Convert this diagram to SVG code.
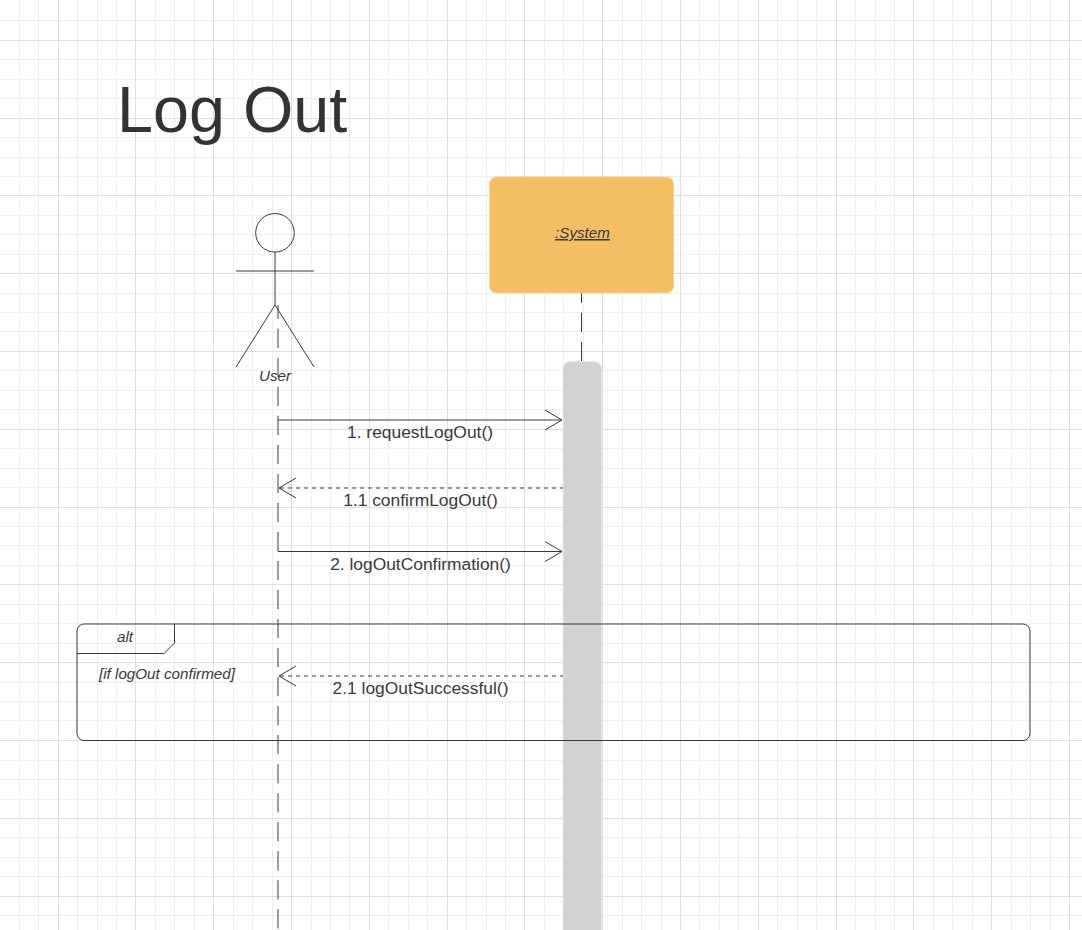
<svg xmlns="http://www.w3.org/2000/svg" width="1082" height="930" viewBox="0 0 1082 930">
<style>
.minor{fill:none;stroke:#efefef;stroke-width:1}
.major{fill:none;stroke:#dedede;stroke-width:1}
text{font-family:"Liberation Sans",Arial,sans-serif;fill:#3a3a3a}
.msg{font-size:17.4px;text-anchor:middle}
.it{font-size:15.2px;font-style:italic}
.ln{fill:none;stroke:#3a3a3a;stroke-width:1}
.life{fill:none;stroke:#3a3a3a;stroke-width:1;stroke-dasharray:19.3 9.73}
.call{fill:none;stroke:#3a3a3a;stroke-width:1;marker-end:url(#open)}
.ret{fill:none;stroke:#3a3a3a;stroke-width:1;stroke-dasharray:4 4;stroke-dashoffset:1;marker-end:url(#open)}
</style>
<defs>
<marker id="open" markerUnits="userSpaceOnUse" markerWidth="20" markerHeight="24" refX="18" refY="11" orient="auto" overflow="visible"><path d="M1 1L18 11L1 21" fill="none" stroke="#3a3a3a" stroke-width="1"/></marker>
</defs>
<rect width="1082" height="930" fill="#fff"/>
<g id="grid">
<path class="minor" d="M19.5 0V930M38.5 0V930M77.5 0V930M97.5 0V930M116.5 0V930M155.5 0V930M174.5 0V930M194.5 0V930M233.5 0V930M252.5 0V930M272.5 0V930M311.5 0V930M330.5 0V930M349.5 0V930M388.5 0V930M408.5 0V930M427.5 0V930M466.5 0V930M486.5 0V930M505.5 0V930M544.5 0V930M563.5 0V930M583.5 0V930M622.5 0V930M641.5 0V930M661.5 0V930M699.5 0V930M719.5 0V930M738.5 0V930M777.5 0V930M797.5 0V930M816.5 0V930M855.5 0V930M875.5 0V930M894.5 0V930M933.5 0V930M952.5 0V930M972.5 0V930M1011.5 0V930M1030.5 0V930M1050.5 0V930M0 20.5H1082M0 59.5H1082M0 79.5H1082M0 98.5H1082M0 137.5H1082M0 157.5H1082M0 176.5H1082M0 215.5H1082M0 234.5H1082M0 254.5H1082M0 293.5H1082M0 312.5H1082M0 331.5H1082M0 370.5H1082M0 390.5H1082M0 409.5H1082M0 448.5H1082M0 468.5H1082M0 487.5H1082M0 526.5H1082M0 545.5H1082M0 565.5H1082M0 604.5H1082M0 623.5H1082M0 643.5H1082M0 682.5H1082M0 701.5H1082M0 720.5H1082M0 760.5H1082M0 779.5H1082M0 799.5H1082M0 837.5H1082M0 857.5H1082M0 876.5H1082M0 915.5H1082"/>
<path class="major" d="M58.5 0V930M135.5 0V930M213.5 0V930M291.5 0V930M369.5 0V930M447.5 0V930M524.5 0V930M602.5 0V930M680.5 0V930M758.5 0V930M836.5 0V930M913.5 0V930M991.5 0V930M1069.5 0V930M0 40.5H1082M0 118.5H1082M0 195.5H1082M0 273.5H1082M0 351.5H1082M0 429.5H1082M0 507.5H1082M0 584.5H1082M0 662.5H1082M0 740.5H1082M0 818.5H1082M0 896.5H1082"/>
</g>
<text id="title" x="117" y="132" style="font-size:64.7px;fill:#333">Log Out</text>
<g id="activation"><rect x="563" y="361.500" width="38.500" height="580" rx="7" fill="#d1d2d4" stroke="#e8e8e9" stroke-width="1"/></g>
<g id="system">
<rect x="489.500" y="177" width="184" height="116" rx="7" fill="#f5be64" stroke="#f8d08f" stroke-width="1"/>
<text class="it" x="582.500" y="238" text-anchor="middle" text-decoration="underline">:System</text>
</g>
<g id="user">
<circle class="ln" cx="275" cy="232.800" r="19.300"/>
<path class="ln" d="M275 252V305M236 271H314M275 305L236 367M275 305L314 367"/>
<text class="it" x="275" y="381" text-anchor="middle">User</text>
</g>
<g id="alt-frame">
<rect class="ln" x="77" y="624" width="953" height="116.500" rx="7"/>
<path class="ln" d="M77 653.500H164L174.500 643V624"/>
<text class="it" x="125" y="642" text-anchor="middle">alt</text>
<text class="it" x="99" y="679">[if logOut confirmed]</text>
</g>
<g id="connectors">
<path class="life" d="M278 305V930" stroke-dashoffset="5.400"/>
<path class="life" d="M581.500 293.500V361" stroke-dashoffset="9.800"/>
<path class="call" d="M278 420H562"/>
<path class="ret" d="M563 488H279"/>
<path class="call" d="M278 551.500H562"/>
<path class="ret" d="M563 676H279"/>
</g>
<g id="labels">
<text class="msg" x="420" y="438">1. requestLogOut()</text>
<text class="msg" x="420.500" y="506">1.1 confirmLogOut()</text>
<text class="msg" x="420.500" y="570">2. logOutConfirmation()</text>
<text class="msg" x="420.500" y="694">2.1 logOutSuccessful()</text>
</g>
</svg>
